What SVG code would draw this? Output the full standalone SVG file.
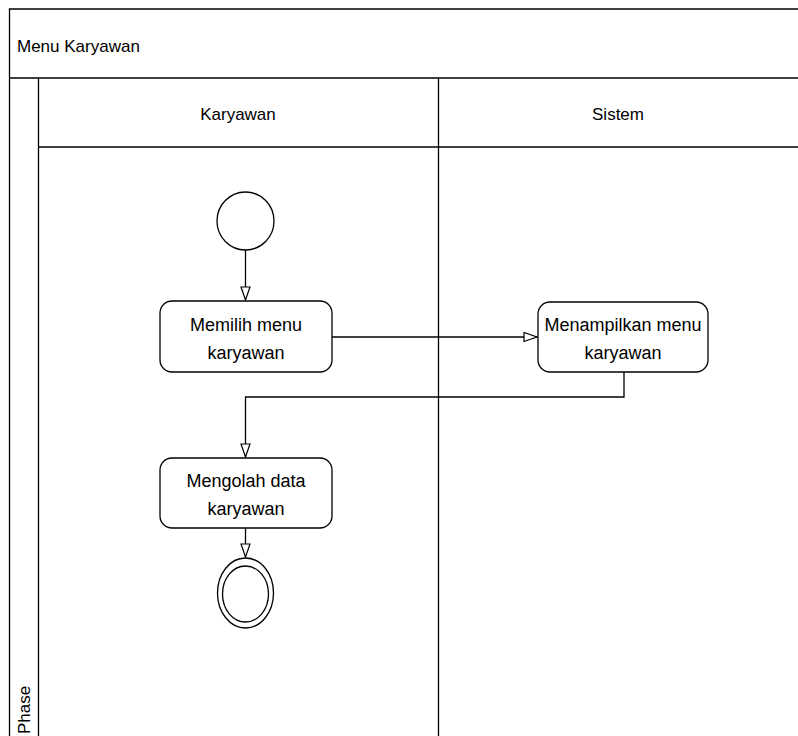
<svg xmlns="http://www.w3.org/2000/svg" width="798" height="736" viewBox="0 0 798 736">
<style>
.ln{fill:none;stroke:#000;stroke-width:1.3}
.nd{fill:#fff;stroke:#000;stroke-width:1.3}
.t{font-family:"Liberation Sans",Arial,sans-serif;font-size:17px;fill:#000}
.b{font-family:"Liberation Sans",Arial,sans-serif;font-size:18px;fill:#000;text-anchor:middle}
</style>
<defs>
<marker id="ah" markerWidth="16" markerHeight="12" refX="14" refY="5.5" orient="auto" markerUnits="userSpaceOnUse">
<path d="M1,1 L14,5.5 L1,10 Z" fill="#fff" stroke="#000" stroke-width="1.2"/>
</marker>
</defs>
<rect width="798" height="736" fill="#fff"/>
<g id="pool">
<path class="ln" d="M798,9 H9.5 V736 M9.5,78 H798 M38.5,78 V736 M38.5,147 H798 M438.5,78 V736"/>
<text class="t" x="17" y="52">Menu Karyawan</text>
<text class="t" x="238" y="120" text-anchor="middle">Karyawan</text>
<text class="t" x="618" y="120" text-anchor="middle">Sistem</text>
<text class="t" transform="translate(30,734) rotate(-90)" x="0" y="0">Phase</text>
</g>
<g id="connectors">
<path class="ln" d="M245.5,250 V300" marker-end="url(#ah)"/>
<path class="ln" d="M332,337 H537" marker-end="url(#ah)"/>
<path class="ln" d="M624,372 V397 H245.5 V457" marker-end="url(#ah)"/>
<path class="ln" d="M245.5,528 V557" marker-end="url(#ah)"/>
</g>
<g id="start">
<ellipse class="nd" cx="245.5" cy="221" rx="28.5" ry="29"/>
</g>
<g id="memilih">
<rect class="nd" x="160" y="301" width="172" height="71" rx="12"/>
<text class="b" x="246" y="331">Memilih menu</text>
<text class="b" x="246" y="359">karyawan</text>
</g>
<g id="menampilkan">
<rect class="nd" x="538" y="302" width="170" height="70" rx="12"/>
<text class="b" x="623" y="331">Menampilkan menu</text>
<text class="b" x="623" y="359">karyawan</text>
</g>
<g id="mengolah">
<rect class="nd" x="160" y="458" width="172" height="70" rx="12"/>
<text class="b" x="246" y="487">Mengolah data</text>
<text class="b" x="246" y="515">karyawan</text>
</g>
<g id="end">
<ellipse class="nd" cx="245.5" cy="593" rx="28" ry="35"/>
<ellipse class="nd" cx="245.5" cy="594" rx="23" ry="28"/>
</g>
</svg>
